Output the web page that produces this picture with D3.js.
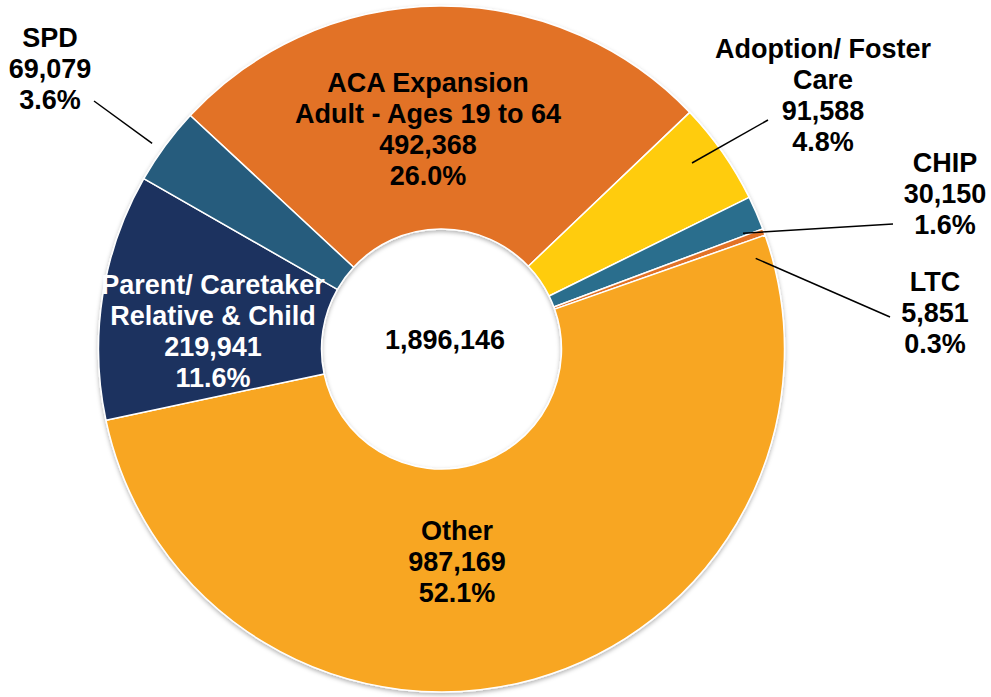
<!DOCTYPE html>
<html>
<head>
<meta charset="utf-8">
<script src="https://cdn.jsdelivr.net/npm/d3@7/dist/d3.min.js"></script>
<style>
  html, body { margin: 0; padding: 0; background: #fff; }
  svg { display: block; }
  text { font-family: "Liberation Sans", Arial, sans-serif; font-weight: bold; }
</style>
</head>
<body>
<svg id="chart" width="991" height="697"></svg>
<script>
// ---- data ----
const categories = ["ACA Expansion Adult - Ages 19 to 64", "Adoption/ Foster Care", "CHIP", "LTC", "Other", "Parent/ Caretaker Relative & Child", "SPD"];
const labelLines = [
  ["ACA Expansion", "Adult - Ages 19 to 64"],
  ["Adoption/ Foster", "Care"],
  ["CHIP"],
  ["LTC"],
  ["Other"],
  ["Parent/ Caretaker", "Relative & Child"],
  ["SPD"]
];
const values = [492368, 91588, 30150, 5851, 987169, 219941, 69079];
const percents = ["26.0%", "4.8%", "1.6%", "0.3%", "52.1%", "11.6%", "3.6%"];
const colors = ["#E27226", "#FFCC08", "#2C6E8D", "#E27226", "#F8A620", "#1B325E", "#265B7D"];
const totalLabel = "1,896,146";

// ---- layout ----
const W = 991, H = 697;
const cx = 441.5, cy = 349, R = 343, r0 = 120;
const startDeg = -47.1;
// label anchors: center x, first baseline y, fill colour
const labelPos = [
  {x: 428, y: 92, fill: "#000"},
  {x: 823, y: 58, fill: "#000"},
  {x: 945, y: 172, fill: "#000"},
  {x: 935, y: 291, fill: "#000"},
  {x: 457, y: 540, fill: "#000"},
  {x: 213, y: 294, fill: "#fff"},
  {x: 50, y: 47, fill: "#000"}
];
// leader lines: start in polar (deg, radius) from donut centre, end at label
const leaders = [
  null,
  {a: 53.4, rad: 312, x: 768, y: 120},
  {a: 69.0, rad: 323, x: 893, y: 224},
  {a: 73.9, rad: 327, x: 890, y: 317},
  null,
  null,
  {a: -54.6, rad: 355, x: 94, y: 101}
];
const lineStep = 31;
const fontSize = 27;
const fmt = d3.format(",");

const svg = d3.select("#chart");
const defs = svg.append("defs");
const f = defs.append("filter").attr("id", "shadow")
  .attr("x", "-10%").attr("y", "-10%").attr("width", "120%").attr("height", "120%");
f.append("feDropShadow").attr("dx", 0).attr("dy", 2).attr("stdDeviation", 2)
  .attr("flood-color", "#000").attr("flood-opacity", 0.3);

const g = svg.append("g").attr("transform", `translate(${cx},${cy})`);

const pie = d3.pie().sort(null).value(d => d)
  .startAngle(startDeg * Math.PI / 180)
  .endAngle(startDeg * Math.PI / 180 + 2 * Math.PI);
const arc = d3.arc().innerRadius(r0).outerRadius(R);
const arcs = pie(values);

g.append("g").attr("filter", "url(#shadow)")
  .selectAll("path").data(arcs).join("path")
  .attr("d", arc)
  .attr("fill", (d, i) => colors[i])
  .attr("stroke", "#fff")
  .attr("stroke-width", 1.5)
  .attr("stroke-linejoin", "round");

// leader lines
leaders.forEach((l, i) => {
  if (!l) return;
  const p = d3.pointRadial(l.a * Math.PI / 180, l.rad);
  svg.append("line")
    .attr("x1", cx + p[0]).attr("y1", cy + p[1])
    .attr("x2", l.x).attr("y2", l.y)
    .attr("stroke", "#000").attr("stroke-width", 1.5);
});

// labels
arcs.forEach((d, i) => {
  const lines = labelLines[i].concat([fmt(values[i]), percents[i]]);
  const t = svg.append("text")
    .attr("x", labelPos[i].x).attr("y", labelPos[i].y)
    .attr("text-anchor", "middle")
    .attr("font-size", fontSize)
    .attr("fill", labelPos[i].fill);
  lines.forEach((s, k) => {
    t.append("tspan").attr("x", labelPos[i].x).attr("dy", k === 0 ? 0 : lineStep).text(s);
  });
});

// total in centre
svg.append("text")
  .attr("x", cx + 3.5).attr("y", cy - 0.5)
  .attr("text-anchor", "middle")
  .attr("font-size", fontSize)
  .attr("fill", "#000")
  .text(totalLabel);
</script>
</body>
</html>
